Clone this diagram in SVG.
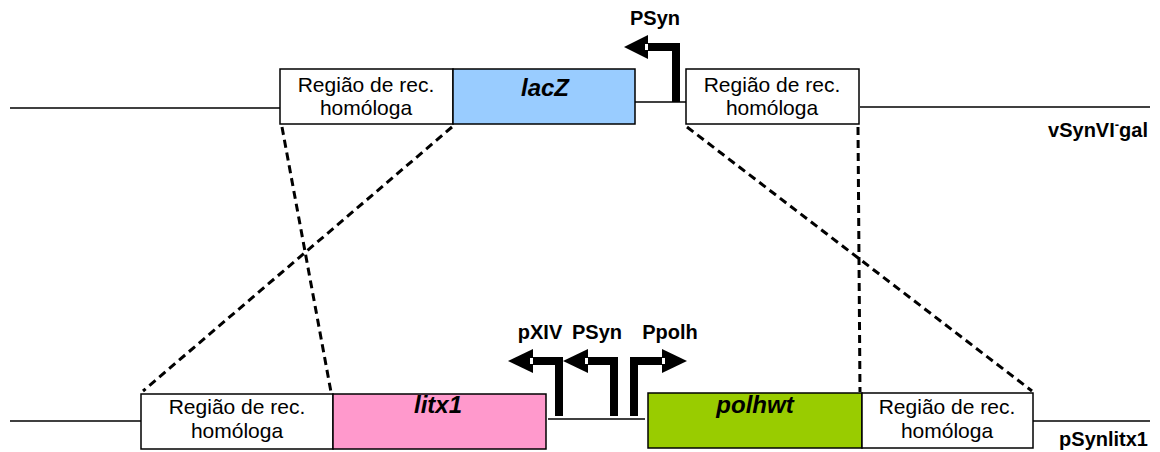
<svg xmlns="http://www.w3.org/2000/svg" width="1160" height="452" viewBox="0 0 1160 452">
<style>
.box{stroke:#000;stroke-width:1.5}
.t{font-family:"Liberation Sans",Arial,sans-serif;font-size:21px;text-anchor:middle;fill:#000}
.g{font-family:"Liberation Sans",Arial,sans-serif;font-size:24px;font-weight:bold;font-style:italic;text-anchor:middle;fill:#000}
.lb{font-family:"Liberation Sans",Arial,sans-serif;font-size:20px;font-weight:bold;fill:#000}
.ln{stroke:#000;stroke-width:1.5;fill:none}
.ds{stroke:#000;stroke-width:3;fill:none;stroke-dasharray:8 5}
.bar{stroke:#000;stroke-width:8;fill:none;stroke-linejoin:miter}
</style>
<rect width="1160" height="452" fill="#fff"/>
<g id="connectors">
<line class="ln" x1="10" y1="108" x2="280" y2="108"/>
<line class="ln" x1="635" y1="102" x2="686" y2="102"/>
<line class="ln" x1="860" y1="107" x2="1150" y2="107"/>
<line class="ln" x1="10" y1="421" x2="141" y2="421"/>
<line class="ln" x1="548" y1="419" x2="645" y2="419"/>
<line class="ln" x1="1033" y1="421" x2="1150" y2="421"/>
<line class="ds" x1="282" y1="127" x2="331" y2="392"/>
<line class="ds" x1="452" y1="127" x2="143" y2="391"/>
<line class="ds" x1="687" y1="127" x2="1032" y2="391"/>
<line class="ds" x1="858" y1="127" x2="860" y2="392"/>
</g>
<g id="top-left-region">
<rect class="box" x="280" y="69" width="173" height="55" fill="#fff"/>
<text class="t" x="366" y="92">Região de rec.</text>
<text class="t" x="366" y="115">homóloga</text>
</g>
<g id="lacZ">
<rect class="box" x="453" y="69" width="182" height="55" fill="#99CCFF"/>
<text class="g" x="545" y="96">lacZ</text>
</g>
<g id="top-right-region">
<rect class="box" x="686" y="69" width="173" height="55" fill="#fff"/>
<text class="t" x="772" y="92">Região de rec.</text>
<text class="t" x="772" y="115">homóloga</text>
</g>
<g id="promoter-PSyn-top">
<polyline class="bar" points="676,102 676,47 646,47"/>
<polygon points="624,47 648,35 648,59" fill="#000"/>
<rect x="645" y="44" width="3" height="6" fill="#fff"/>
<text class="lb" x="655" y="25" text-anchor="middle">PSyn</text>
</g>
<text id="label-vSynVI-gal" class="lb" x="1148" y="137" text-anchor="end">vSynVI<tspan font-size="13" dy="-8">-</tspan><tspan dy="8">gal</tspan></text>
<g id="bottom-left-region">
<rect class="box" x="141" y="394" width="192" height="55" fill="#fff"/>
<text class="t" x="237" y="414">Região de rec.</text>
<text class="t" x="237" y="438">homóloga</text>
</g>
<g id="litx1">
<rect class="box" x="333" y="394" width="213" height="55" fill="#FF99CC"/>
<text class="g" x="438" y="413">litx1</text>
</g>
<g id="polhwt">
<rect class="box" x="648" y="393" width="214" height="55" fill="#99CC00"/>
<text class="g" x="755" y="413">polhwt</text>
</g>
<g id="bottom-right-region">
<rect class="box" x="862" y="393" width="171" height="55" fill="#fff"/>
<text class="t" x="947" y="414">Região de rec.</text>
<text class="t" x="947" y="438">homóloga</text>
</g>
<g id="promoter-pXIV">
<polyline class="bar" points="559,416 559,361 531,361"/>
<polygon points="508,361 533,349 533,373" fill="#000"/>
<rect x="530" y="358" width="3" height="6" fill="#fff"/>
<text class="lb" x="540" y="339" text-anchor="middle">pXIV</text>
</g>
<g id="promoter-PSyn-bottom">
<polyline class="bar" points="614,416 614,361 586,361"/>
<polygon points="563,361 588,349 588,373" fill="#000"/>
<rect x="585" y="358" width="3" height="6" fill="#fff"/>
<text class="lb" x="597" y="339" text-anchor="middle">PSyn</text>
</g>
<g id="promoter-Ppolh">
<polyline class="bar" points="634,416 634,361 664,361"/>
<polygon points="687,361 662,349 662,373" fill="#000"/>
<rect x="662" y="358" width="3" height="6" fill="#fff"/>
<text class="lb" x="670" y="339" text-anchor="middle">Ppolh</text>
</g>
<text id="label-pSynlitx1" class="lb" x="1148" y="446" text-anchor="end">pSynlitx1</text>
</svg>
